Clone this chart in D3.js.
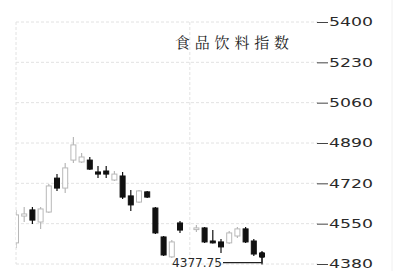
<!DOCTYPE html>
<html lang="en">

<head>
  <meta charset="UTF-8">
  <title>食品饮料指数</title>
  <script src="https://cdn.jsdelivr.net/npm/d3@7"></script>
  <style>
    body { margin: 0; background: #fff; }
    .grid line { stroke: #e2e2e2; stroke-dasharray: 3, 2; }
    .axis text { font-family: "DejaVu Sans", sans-serif; font-size: 12px; fill: #2a2a2a; }
    .axis line { stroke: #444; }
    .axis path { display: none; }
  </style>
</head>

<body>
<script>
let width = 417;
let height = 271;

// trading day index (21 has no bar)
let days = [0, 1, 2, 3, 4, 5, 6, 7, 8, 9, 10, 11, 12, 13, 14, 15, 16, 17, 18, 19, 20,
  22, 23, 24, 25, 26, 27, 28, 29, 30];
let open = [4469, 4582, 4608, 4557, 4599, 4742, 4700, 4818, 4810, 4818, 4768, 4772, 4734, 4751, 4667,
  4641, 4684, 4616, 4494, 4410, 4553, 4525, 4532, 4477, 4473, 4469, 4498, 4528, 4477, 4426];
let high = [4608, 4620, 4620, 4620, 4717, 4759, 4806, 4915, 4848, 4831, 4793, 4793, 4772, 4768, 4692,
  4692, 4688, 4620, 4498, 4481, 4561, 4544, 4536, 4523, 4485, 4519, 4536, 4536, 4485, 4435];
let low = [4447, 4557, 4549, 4528, 4595, 4688, 4679, 4806, 4806, 4776, 4742, 4742, 4730, 4654, 4603,
  4637, 4658, 4506, 4414, 4405, 4511, 4515, 4469, 4466, 4426, 4464, 4490, 4469, 4414, 4377.75];
let close = [4587, 4591, 4565, 4612, 4709, 4700, 4785, 4882, 4831, 4780, 4759, 4759, 4759, 4662, 4629,
  4688, 4662, 4511, 4418, 4473, 4523, 4532, 4473, 4469, 4452, 4511, 4528, 4473, 4422, 4410];

let yTicks = [4380, 4550, 4720, 4890, 5060, 5230, 5400];
let title = '食品饮料指数';
let lowLabel = '4377.75';

let x = d3.scaleLinear()
  .domain([0, 30])
  .range([16, 262]);
let y = d3.scaleLinear()
  .domain([4380, 5400])
  .range([264, 22]);

let svg = d3.select('body').append('svg')
  .attr('width', width)
  .attr('height', height);

svg.append('defs').append('clipPath')
  .attr('id', 'plot')
  .append('rect')
  .attr('x', 16).attr('y', 0)
  .attr('width', 300).attr('height', height);

// grid
let grid = svg.append('g').attr('class', 'grid');
grid.selectAll('.h')
  .data(yTicks)
  .enter()
  .append('line')
  .attr('class', 'h')
  .attr('x1', 16).attr('x2', 318)
  .attr('y1', d => y(d)).attr('y2', d => y(d));
grid.selectAll('.v')
  .data([0, 21.2])
  .enter()
  .append('line')
  .attr('class', 'v')
  .attr('x1', d => x(d)).attr('x2', d => x(d))
  .attr('y1', y(5400)).attr('y2', y(4380));
svg.append('line')
  .attr('x1', 392).attr('x2', 392)
  .attr('y1', 0).attr('y2', height)
  .attr('stroke', '#f0f0f0');

// axis on the right
let yAxis = d3.axisRight(y)
  .tickValues(yTicks)
  .tickSize(11)
  .tickPadding(1)
  .tickFormat(d3.format('d'));
let ax = svg.append('g')
  .attr('class', 'axis')
  .attr('transform', 'translate(317,0)')
  .call(yAxis);
ax.selectAll('text')
  .attr('textLength', 44)
  .attr('lengthAdjust', 'spacingAndGlyphs');

// candles
let data = days.map(function (d, i) {
  return { day: d, o: open[i], h: high[i], l: low[i], c: close[i] };
});

let candles = svg.append('g')
  .attr('clip-path', 'url(#plot)')
  .selectAll('g')
  .data(data)
  .enter()
  .append('g');

function col(d) {
  return d.c >= d.o ? '#b8b8b8' : '#111';
}

candles.append('line')
  .attr('x1', d => x(d.day)).attr('x2', d => x(d.day))
  .attr('y1', d => y(d.h)).attr('y2', d => y(d.l))
  .attr('stroke', col)
  .attr('stroke-width', 1.2);

candles.append('rect')
  .attr('x', d => x(d.day) - 2.5)
  .attr('width', 5)
  .attr('y', d => y(Math.max(d.o, d.c)))
  .attr('height', d => Math.max(1.5, Math.abs(y(d.o) - y(d.c))))
  .attr('fill', d => d.c >= d.o ? '#fff' : '#111')
  .attr('stroke', col)
  .attr('stroke-width', 1);

// last bar marker and low annotation
let last = data[data.length - 1];
svg.append('circle')
  .attr('cx', x(last.day))
  .attr('cy', y(last.o) + 2)
  .attr('r', 3)
  .attr('fill', '#111');
svg.append('path')
  .attr('d', 'M223,' + (y(last.l) - 2) + 'H' + x(last.day) + 'V' + (y(last.l) - 7))
  .attr('fill', 'none')
  .attr('stroke', '#222')
  .attr('stroke-width', 1.2);
svg.append('text')
  .attr('x', 172)
  .attr('y', 267)
  .attr('textLength', 50)
  .attr('lengthAdjust', 'spacingAndGlyphs')
  .style('font-family', '"DejaVu Sans", sans-serif')
  .style('font-size', '12px')
  .style('fill', '#2a2a2a')
  .text(lowLabel);

// title
svg.append('text')
  .attr('x', 175)
  .attr('y', 48)
  .attr('textLength', 114)
  .attr('lengthAdjust', 'spacing')
  .style('font-family', '"Noto Serif CJK SC", "Noto Sans CJK SC", serif')
  .style('font-size', '15px')
  .style('fill', '#222')
  .text(title);
</script>
</body>

</html>
